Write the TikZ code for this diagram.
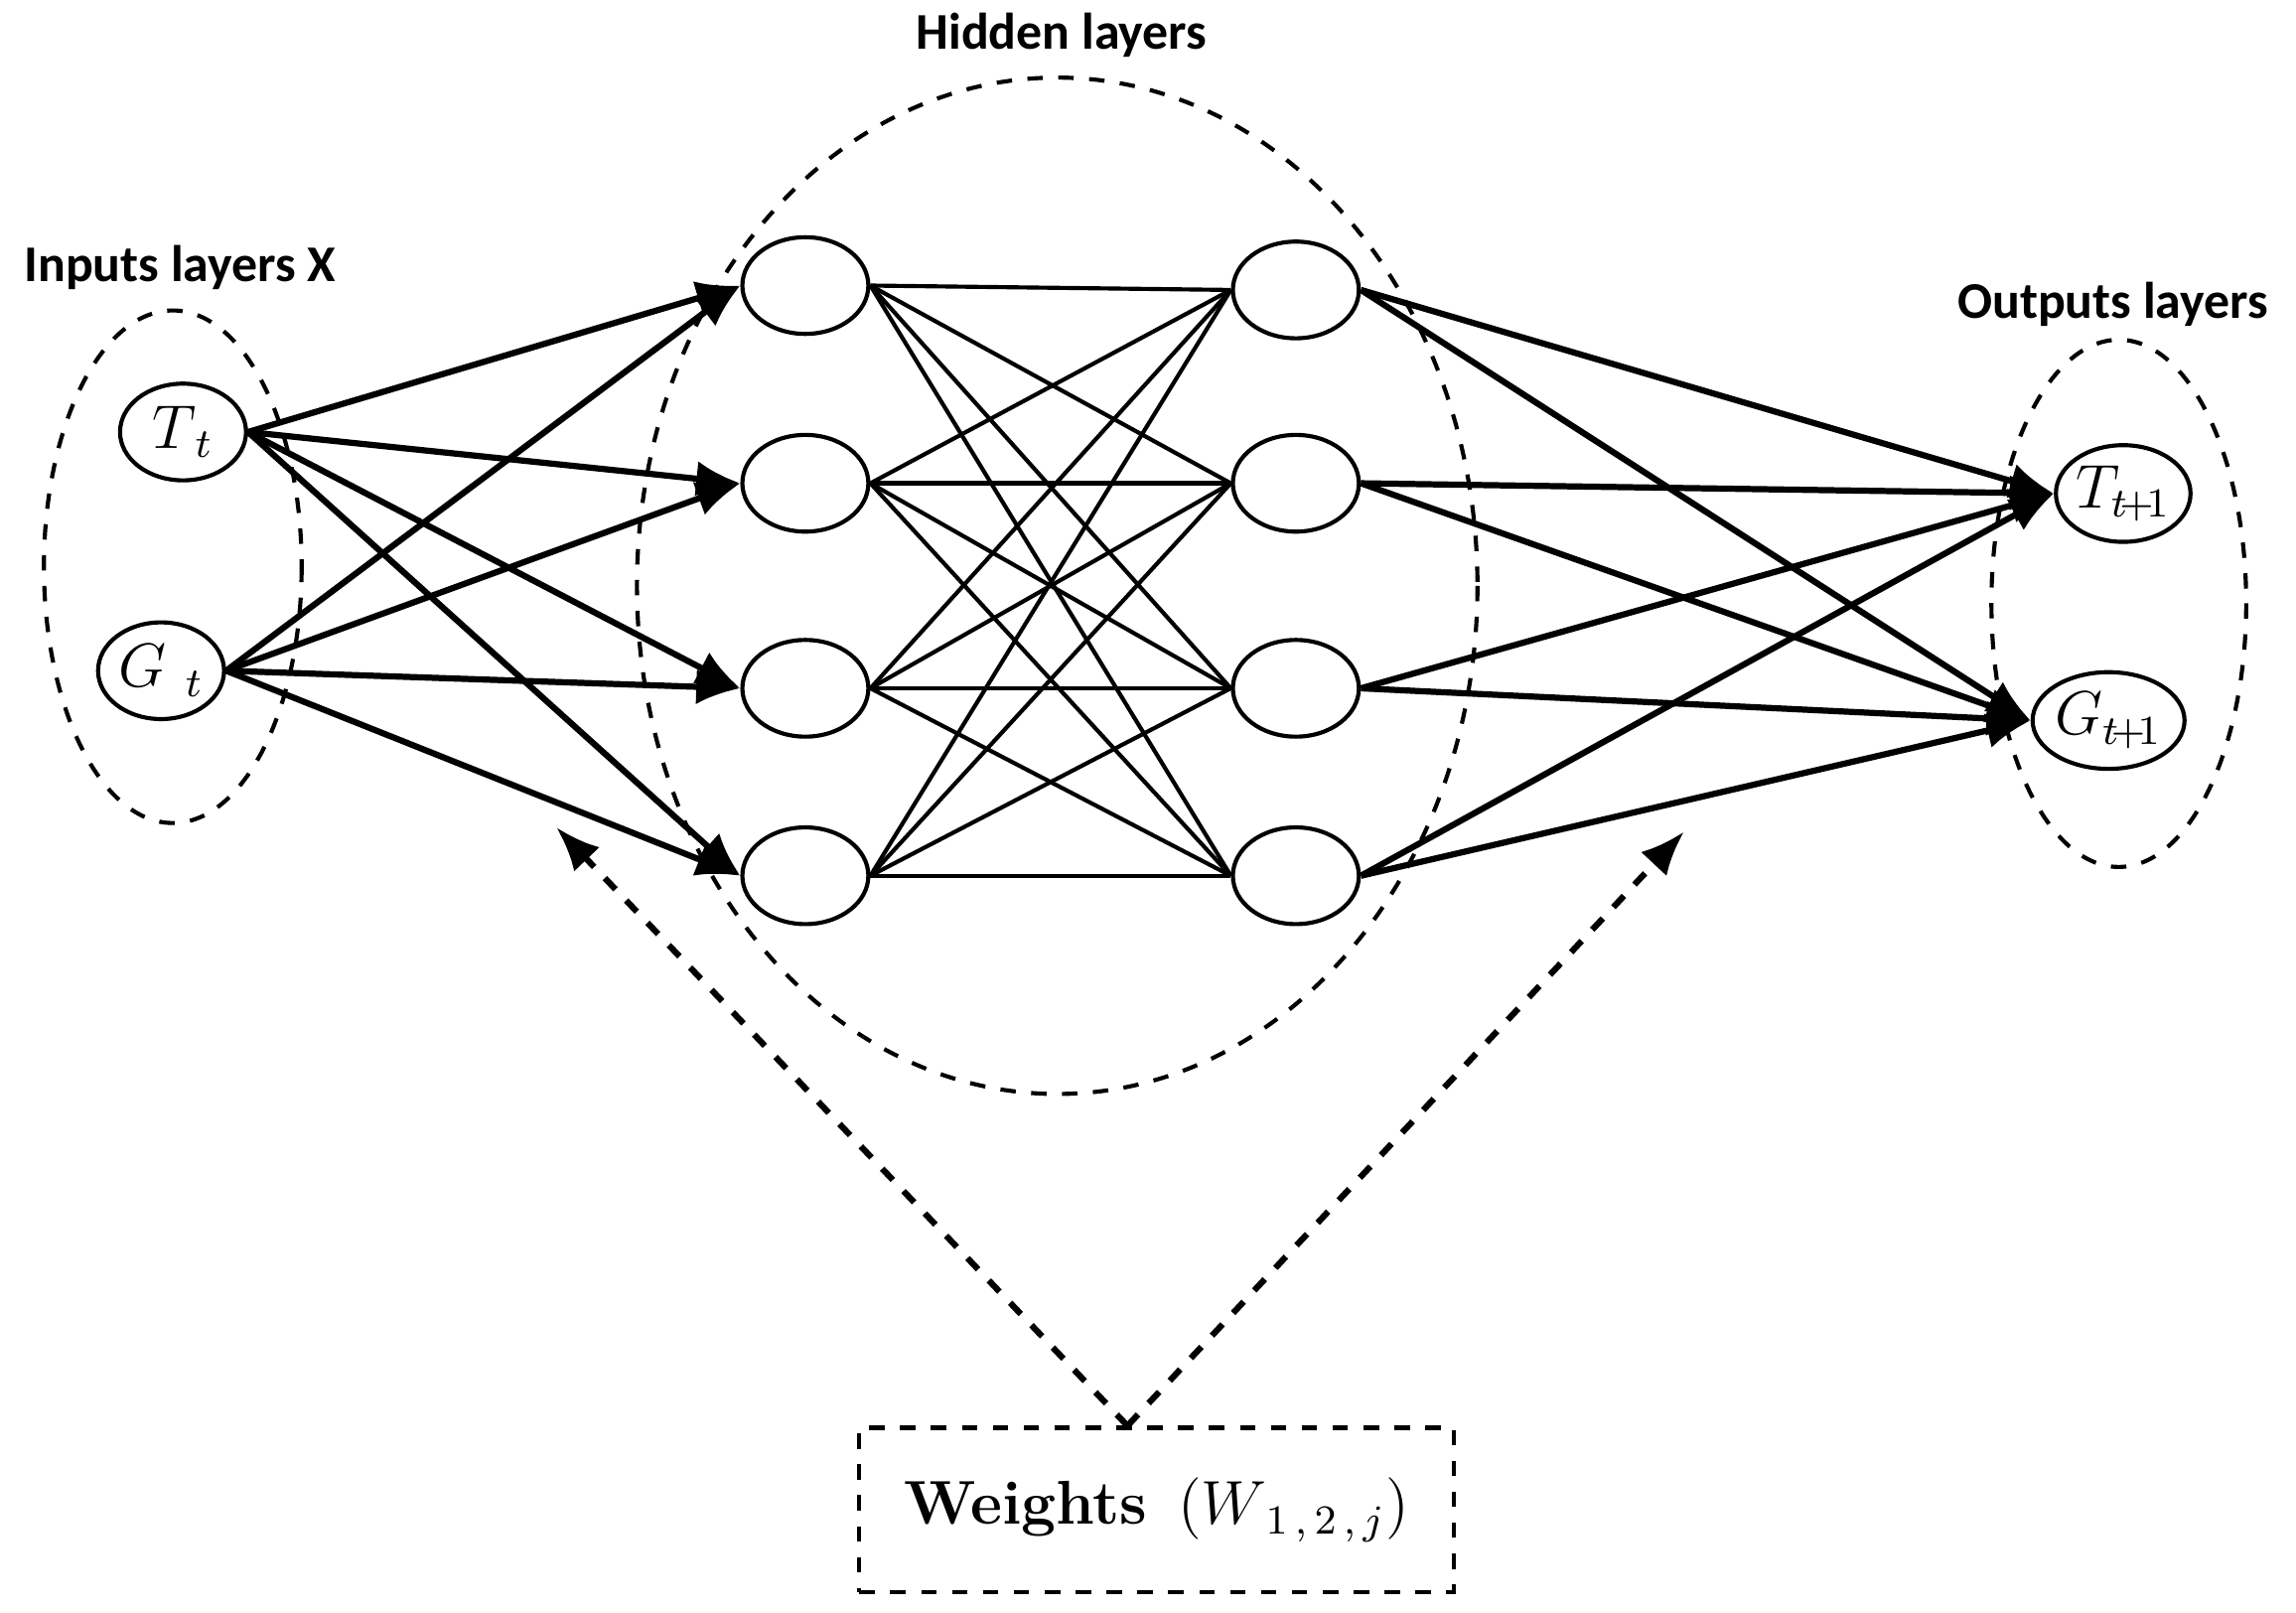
\documentclass[tikz,border=0pt]{standalone}
\usepackage{fontspec}
\newfontfamily\lblfont{Carlito}
\usetikzlibrary{arrows.meta,shapes.geometric}

\begin{document}
\begin{tikzpicture}[x=0.01cm,y=-0.01cm,
  neuron/.style = {ellipse,draw,thick,minimum width=0.86cm,minimum height=0.66cm,inner sep=0pt},
  group/.style = {draw,thick,dashed},
  title/.style = {font=\lblfont\bfseries\normalsize},
  feed/.style = {-{Latex[length=3mm,width=2.4mm]},very thick},
  link/.style = {thick}]
\useasboundingbox (0,0) rectangle (1568,1101);
% layer groups
\draw[group] (118,387) ellipse [x radius=88,y radius=175];
\draw[group] (722,400) ellipse [x radius=287,y radius=347];
\draw[group] (1447,412) ellipse [x radius=87,y radius=180];
\node[title] (tin) at (123,183) {Inputs layers X};
\node[title] (thid) at (725,24) {Hidden layers};
\node[title] (tout) at (1443,208) {Outputs layers};
% neurons
\node[neuron] (in1) at (125,295) {\large $T_{\,t}$};
\node[neuron] (in2) at (110,458) {\large $G_{\;\,t}$};
\foreach \y [count=\k] in {195,330,470,598}
    \node[neuron] (ha\k) at (550,\y) {};
\foreach \y [count=\k] in {198,330,470,598}
    \node[neuron] (hb\k) at (885,\y) {};
\node[neuron,minimum width=0.9cm] (out1) at (1450,337) {\large $T_{t\!+\!1}$};
\node[neuron,minimum width=0.9cm] (out2) at (1440,492) {\large $G_{t\!+\!1}$};
% connections
\foreach \i in {1,2}
  \foreach \k in {1,...,4}
    \draw[feed] (in\i.east) -- (ha\k.west);
\foreach \i in {1,...,4}
  \foreach \k in {1,...,4}
    \draw[link] (ha\i.east) -- (hb\k.west);
\foreach \i in {1,...,4}
  \foreach \k in {1,2}
    \draw[feed] (hb\i.east) -- (out\k.west);
% weights
\node[draw,thick,dashed,minimum width=4.06cm,minimum height=1.12cm] (wbox) at (790,1031)
    {\large\textbf{Weights}\, $\bigl(W_{\,1\,,\,2\,,\,j}\bigr)$};
\coordinate (wl) at (380,565);
\coordinate (wr) at (1150,568);
\draw[feed,dashed] (wbox.north -| 770,0) -- (wl);
\draw[feed,dashed] (wbox.north -| 770,0) -- (wr);
\end{tikzpicture}
\end{document}
